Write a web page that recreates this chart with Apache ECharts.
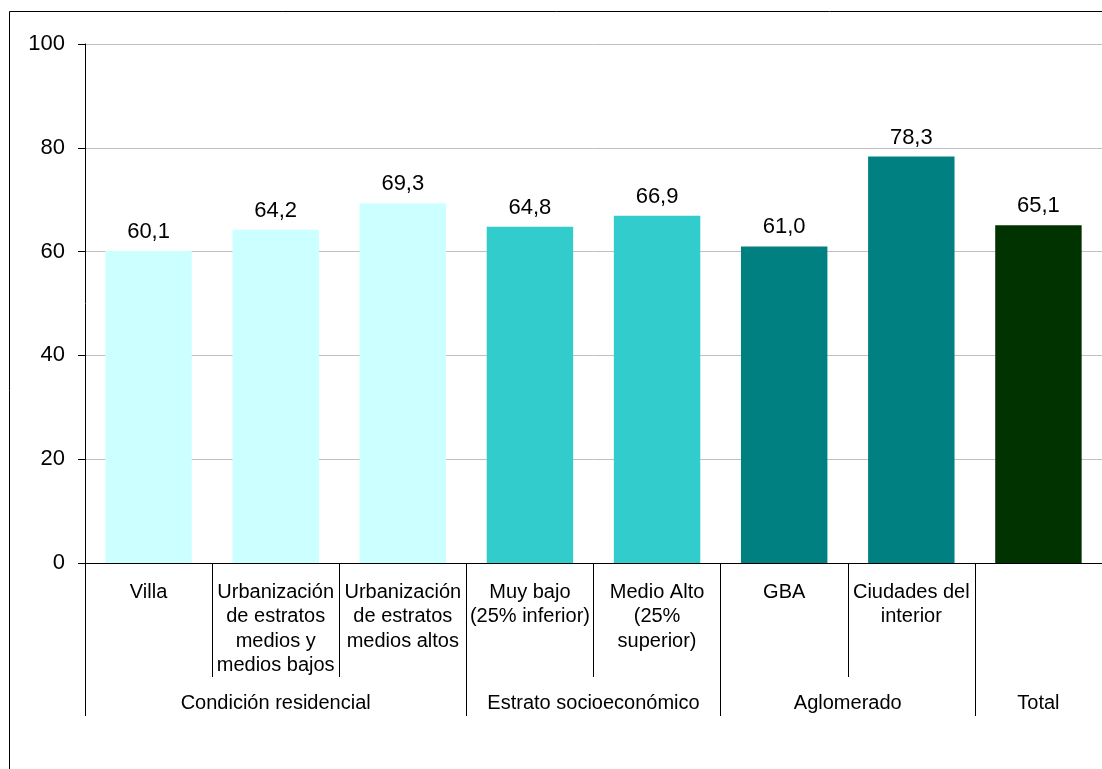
<!DOCTYPE html>
<html>
<head>
<meta charset="utf-8">
<script src="https://cdn.jsdelivr.net/npm/echarts@6/dist/echarts.min.js"></script>
<style>
  html, body { margin: 0; padding: 0; background: #fff; }
  #chart { width: 1102px; height: 769px; }
</style>
</head>
<body>
<div id="chart"></div>
<script>
// categories (line breaks as in the original)
const categories = [
  "Villa",
  "Urbanización\nde estratos\nmedios y\nmedios bajos",
  "Urbanización\nde estratos\nmedios altos",
  "Muy bajo\n(25% inferior)",
  "Medio Alto\n(25%\nsuperior)",
  "GBA",
  "Ciudades del\ninterior",
  "",
];
const values = [60.1, 64.2, 69.3, 64.8, 66.9, 61.0, 78.3, 65.1];
const barColors = ["#CCFFFF", "#CCFFFF", "#CCFFFF", "#33CCCC", "#33CCCC", "#008080", "#008080", "#003300"];

// grupos del eje inferior: nombre y cantidad de categorías
const groupNames = ["Condición residencial", "Estrato socioeconómico", "Aglomerado", "Total"];
const groupSizes = [3, 2, 2, 1];

const yTicks = [0, 20, 40, 60, 80, 100];

// límites y centros de cada grupo, en unidades de categoría
const groupStarts = [];
const groupCenters = [];
let acc = 0;
groupSizes.forEach((n) => {
  groupStarts.push(acc);
  groupCenters.push(acc + n / 2);
  acc += n;
});

const fmt = (v) => v.toFixed(1).replace(".", ",");
const font = "'Liberation Sans', Arial, sans-serif";

const chart = echarts.init(document.getElementById("chart"));
chart.setOption({
  animation: false,
  textStyle: { fontFamily: font },
  grid: { left: 85, right: 0, top: 44, bottom: 206, containLabel: false },
  graphic: [
    {
      type: "rect",
      shape: { x: 9.5, y: 11.5, width: 1200, height: 900 },
      style: { fill: null, stroke: "#000", lineWidth: 1 },
      silent: true,
    },
  ],
  xAxis: [
    {
      type: "category",
      data: categories,
      position: "bottom",
      axisLine: { show: true, lineStyle: { color: "#000", width: 1 } },
      axisTick: { show: true, interval: 0, length: 114, lineStyle: { color: "#000" } },
      axisLabel: {
        interval: 0,
        margin: 17,
        color: "#000",
        fontSize: 20,
        lineHeight: 24.5,
        fontFamily: font,
      },
      splitLine: { show: false },
    },
    {
      type: "value",
      position: "bottom",
      min: 0,
      max: acc,
      axisLine: { show: false },
      axisTick: {
        show: true,
        length: 153,
        customValues: groupStarts,
        lineStyle: { color: "#000" },
      },
      axisLabel: {
        show: true,
        margin: 130,
        color: "#000",
        fontSize: 20,
        fontFamily: font,
        customValues: groupCenters,
        formatter: (v) => {
          const i = groupCenters.indexOf(v);
          return i >= 0 ? groupNames[i] : "";
        },
      },
      splitLine: { show: false },
    },
  ],
  yAxis: {
    type: "value",
    min: yTicks[0],
    max: yTicks[yTicks.length - 1],
    interval: 20,
    axisLine: { show: true, lineStyle: { color: "#000", width: 1 } },
    axisTick: { show: true, inside: false, length: 7, lineStyle: { color: "#000" } },
    axisLabel: { margin: 20, color: "#000", fontSize: 22, fontFamily: font },
    splitLine: { show: true, lineStyle: { color: "#c0c0c0", width: 1 } },
  },
  series: [
    {
      type: "bar",
      xAxisIndex: 0,
      barCategoryGap: "32%",
      data: values.map((v, i) => ({ value: v, itemStyle: { color: barColors[i] } })),
      label: {
        show: true,
        position: "top",
        distance: 8,
        color: "#000",
        fontSize: 22,
        fontFamily: font,
        formatter: (p) => fmt(p.value),
      },
    },
  ],
});
</script>
</body>
</html>
